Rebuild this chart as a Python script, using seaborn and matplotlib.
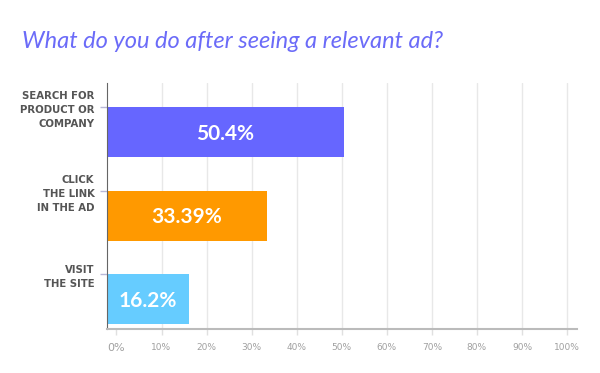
import matplotlib
matplotlib.use('Agg')
import pandas as pd
import seaborn as sns
import matplotlib.pyplot as plt

# --- Data ---
categories = ['SEARCH FOR\nPRODUCT OR\nCOMPANY', 'CLICK\nTHE LINK\nIN THE AD', 'VISIT\nTHE SITE']
shares = [50.4, 33.39, 16.2]
share_labels = ['50.4%', '33.39%', '16.2%']
bar_colors = ['#6666FF', '#FF9900', '#66CCFF']
x_ticks = [0, 10, 20, 30, 40, 50, 60, 70, 80, 90, 100]
x_tick_labels = ['0%', '10%', '20%', '30%', '40%', '50%', '60%', '70%', '80%', '90%', '100%']

# --- Styling ---
sns.set_style('white')
plt.rcParams['font.family'] = ['Lato', 'DejaVu Sans']

df = pd.DataFrame({'action': categories, 'share': shares})

fig = plt.figure(figsize=(6, 3.73), dpi=100)
ax = fig.add_axes([0.1783, 0.118, 0.7833, 0.6595])
sns.barplot(data=df, y='action', x='share', hue='action', palette=bar_colors,
            legend=False, width=0.6, saturation=1, ax=ax)

# bars start at the axis line, a little left of 0
x_left = -2.1
for p in ax.patches:
    w = p.get_width()
    p.set_x(x_left)
    p.set_width(w - x_left)
    p.set_edgecolor('none')

for i, (v, lab) in enumerate(zip(shares, share_labels)):
    ax.text((x_left + v) / 2, i + 0.02, lab, ha='center', va='center', color='white',
            fontsize=15, fontweight='bold')

# y axis: labels sit at the top edge of each bar
ax.set_yticks([i - 0.3 for i in range(len(categories))])
ax.set_yticklabels(categories, fontsize=7.3, fontweight='bold', color='#555555',
                   linespacing=1.5, family=['DejaVu Sans'])
ax.set_ylim(2.36, -0.59)
ax.set_ylabel('')

ax.set_xlim(x_left, 102.2)
ax.set_xticks(x_ticks)
ax.set_xticklabels(x_tick_labels, fontsize=6.5, color='#a0a0a0', family=['DejaVu Sans'])
ax.get_xticklabels()[0].set_fontsize(8)
ax.set_xlabel('')

ax.tick_params(axis='y', left=True, length=5, color='#b8b8d8', width=1, pad=4)
ax.tick_params(axis='x', bottom=True, length=4, color='#e0e0e0', width=1, pad=6)

ax.grid(axis='x', color='#e8e8e8', linewidth=1)
ax.get_xgridlines()[0].set_visible(False)
ax.set_axisbelow(True)

sns.despine(ax=ax, top=True, right=True)
ax.spines['left'].set_color('#666666')
ax.spines['left'].set_linewidth(0.8)
ax.spines['bottom'].set_color('#bbbbbb')
ax.spines['bottom'].set_linewidth(1.5)

fig.text(22 / 600, 1 - 42 / 373, 'What do you do after seeing a relevant ad?',
         fontsize=17, style='italic', color='#6B6BF8', va='center', ha='left')

fig.savefig('out.png', dpi=100)
